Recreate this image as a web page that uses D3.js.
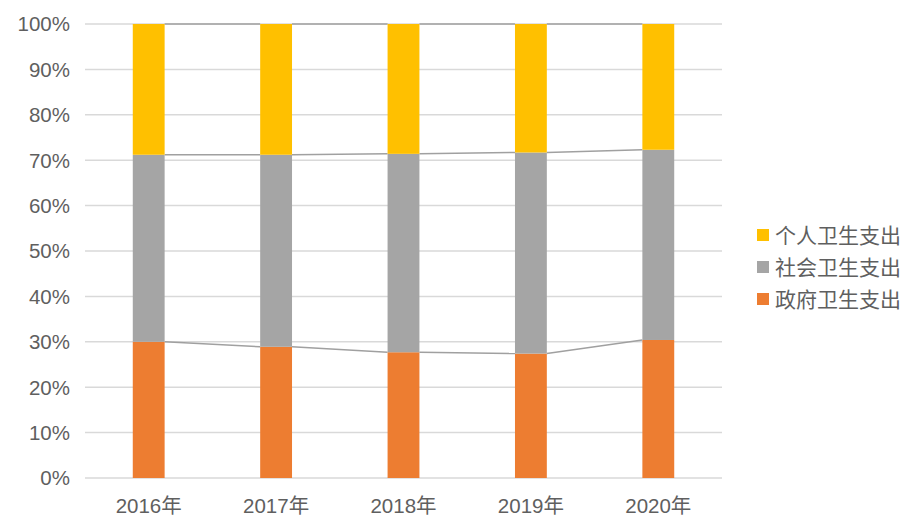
<!DOCTYPE html>
<html><head><meta charset="utf-8">
<script src="https://cdn.jsdelivr.net/npm/d3@7"></script>
<style>body{margin:0;background:#fff}svg{display:block}</style>
</head><body>
<svg id="c" width="920" height="526"></svg>
<script>
const categories = ["2016年","2017年","2018年","2019年","2020年"];
const government = [30.0, 28.9, 27.7, 27.4, 30.4];
const social = [41.2, 42.3, 43.7, 44.3, 41.9];
const personal = [28.8, 28.8, 28.6, 28.3, 27.7];
const seriesNames = ["政府卫生支出","社会卫生支出","个人卫生支出"];
const yTicks = [0,10,20,30,40,50,60,70,80,90,100];
const colors = {"政府卫生支出":"#ED7D31","社会卫生支出":"#A5A5A5","个人卫生支出":"#FFC000"};

const svg = d3.select("#c");
const font = "'Liberation Sans','Noto Sans CJK SC',sans-serif";
const x = d3.scaleBand().domain(categories).range([85,722]).paddingInner(0.75).paddingOuter(0.375);
const y = d3.scaleLinear().domain([0,100]).range([478,24]);

// grid
svg.append("g").selectAll("line").data(yTicks).join("line")
  .attr("x1",85).attr("x2",722).attr("y1",d=>y(d)).attr("y2",d=>y(d))
  .attr("stroke","#d9d9d9").attr("stroke-width",1.5);

const rows = categories.map((c,i)=>({cat:c,"政府卫生支出":government[i],"社会卫生支出":social[i],"个人卫生支出":personal[i]}));
const stack = d3.stack().keys(seriesNames)(rows);

// series lines
stack.forEach(s=>{
  for(let i=0;i<categories.length-1;i++){
    svg.append("line")
      .attr("x1",x(categories[i])+x.bandwidth()).attr("x2",x(categories[i+1]))
      .attr("y1",y(s[i][1])).attr("y2",y(s[i+1][1]))
      .attr("stroke","#a0a0a0").attr("stroke-width",1.5);
  }
});

stack.forEach(s=>{
  svg.append("g").selectAll("rect").data(s).join("rect")
    .attr("x",d=>x(d.data.cat)).attr("width",x.bandwidth())
    .attr("y",d=>y(d[1])).attr("height",d=>y(d[0])-y(d[1]))
    .attr("fill",colors[s.key]);
});

// y axis labels
svg.append("g").selectAll("text").data(yTicks).join("text")
  .attr("x",70).attr("y",d=>y(d)).attr("dy","0.36em").attr("text-anchor","end")
  .attr("font-family",font).attr("font-size",20.5).attr("fill","#5f5f5f")
  .text(d=>d+"%");

// x axis labels
svg.append("g").selectAll("text").data(categories).join("text")
  .attr("x",d=>x(d)+x.bandwidth()/2).attr("y",513).attr("text-anchor","middle")
  .attr("font-family",font).attr("font-size",20.5).attr("fill","#5f5f5f")
  .text(d=>d);

// legend
const legendItems = ["个人卫生支出","社会卫生支出","政府卫生支出"];
const lg = svg.append("g").selectAll("g").data(legendItems).join("g")
  .attr("transform",(d,i)=>`translate(757,${235+i*32})`);
lg.append("rect").attr("x",0).attr("y",-6).attr("width",12).attr("height",12).attr("fill",d=>colors[d]);
lg.append("text").attr("x",18).attr("dy","0.36em").attr("font-family",font).attr("font-size",21)
  .attr("fill","#5f5f5f").text(d=>d);
</script>
</body></html>
